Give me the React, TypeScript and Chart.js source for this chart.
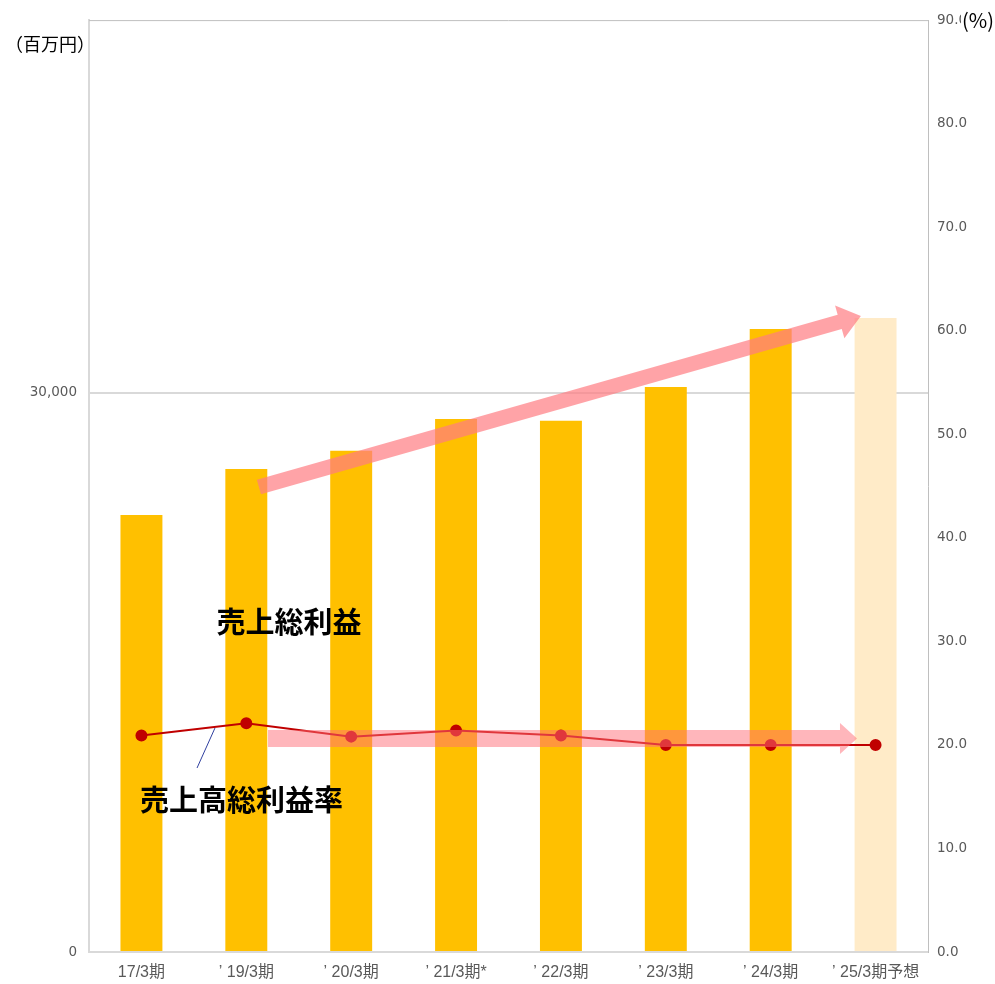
import React, { useEffect, useRef } from "react";
import { Chart, registerables } from "chart.js";

Chart.register(...registerables);

const categories = ["17/3期", "’ 19/3期", "’ 20/3期", "’ 21/3期*", "’ 22/3期", "’ 23/3期", "’ 24/3期", "’ 25/3期予想"];
const grossProfit = [23450, 25920, 26890, 28600, 28500, 30320, 33430, 34020];
const grossMargin = [20.9, 22.1, 20.8, 21.4, 20.9, 20.0, 20.0, 20.0];
const barColors = ["#FFC000", "#FFC000", "#FFC000", "#FFC000", "#FFC000", "#FFC000", "#FFC000", "#FFEBC8"];
const leftTicks = [0, 30000];
const leftMax = 50000;
const rightMax = 90;

const FONT = "'Noto Sans CJK JP', 'Noto Sans', sans-serif";
const XFONT = "'Liberation Sans', 'Noto Sans CJK JP', sans-serif";
const YFONT = "'DejaVu Sans', sans-serif";

const annotationPlugin = {
  id: "annots",
  afterDraw(chart: any) {
    const ctx = chart.ctx as CanvasRenderingContext2D;
    const { x, y, y1 } = chart.scales;
    const area = chart.chartArea;

    // top border
    ctx.save();
    ctx.strokeStyle = "#bfbfbf";
    ctx.lineWidth = 1;
    ctx.beginPath();
    ctx.moveTo(area.left, area.top + 0.5);
    ctx.lineTo(area.right, area.top + 0.5);
    ctx.stroke();
    ctx.restore();

    const arrow = (x0: number, y0: number, x1: number, y1p: number, w: number, hl: number, hw: number, color: string) => {
      const dx = x1 - x0, dy = y1p - y0;
      const len = Math.sqrt(dx * dx + dy * dy);
      const ang = Math.atan2(dy, dx);
      ctx.save();
      ctx.translate(x0, y0);
      ctx.rotate(ang);
      ctx.fillStyle = color;
      ctx.beginPath();
      ctx.moveTo(0, -w / 2);
      ctx.lineTo(len - hl, -w / 2);
      ctx.lineTo(len - hl, -hw);
      ctx.lineTo(len, 0);
      ctx.lineTo(len - hl, hw);
      ctx.lineTo(len - hl, w / 2);
      ctx.lineTo(0, w / 2);
      ctx.closePath();
      ctx.fill();
      ctx.restore();
    };

    // trend arrow for gross profit
    arrow(
      x.getPixelForValue(1.12), y.getPixelForValue(24950),
      x.getPixelForValue(6.86), y.getPixelForValue(34130),
      15, 22, 17, "rgba(255,124,130,0.7)"
    );
    // flat arrow for margin
    arrow(
      x.getPixelForValue(1.207), y1.getPixelForValue(20.62),
      x.getPixelForValue(6.823), y1.getPixelForValue(20.62),
      17, 17, 15.5, "rgba(255,110,120,0.5)"
    );

    // leader line
    ctx.save();
    ctx.strokeStyle = "#2F3F9F";
    ctx.lineWidth = 1;
    ctx.beginPath();
    ctx.moveTo(x.getPixelForValue(0.701), y1.getPixelForValue(21.63));
    ctx.lineTo(x.getPixelForValue(0.53), y1.getPixelForValue(17.77));
    ctx.stroke();
    ctx.restore();

    // labels
    ctx.save();
    ctx.fillStyle = "#000";
    ctx.font = `bold 29px ${FONT}`;
    ctx.textAlign = "center";
    ctx.textBaseline = "middle";
    ctx.fillText("売上総利益", x.getPixelForValue(1.407), y.getPixelForValue(17710));
    ctx.fillText("売上高総利益率", x.getPixelForValue(0.954), y.getPixelForValue(8157));
    ctx.restore();

    // axis unit titles
    ctx.save();
    ctx.fillStyle = "#000";
    ctx.font = `18px ${FONT}`;
    ctx.textAlign = "left";
    ctx.textBaseline = "middle";
    ctx.fillText("（百万円）", 5, 44);
    ctx.font = `20px ${FONT}`;
    const w = ctx.measureText("(%)").width;
    ctx.fillStyle = "#fff";
    ctx.fillRect(961, 6, w + 4, 28);
    ctx.fillStyle = "#000";
    ctx.fillText("(%)", 962, 20);
    ctx.restore();
  },
};

export default function App() {
  const ref = useRef<HTMLCanvasElement>(null);
  useEffect(() => {
    document.body.style.margin = "0";
    const chart = new Chart(ref.current!, {
      type: "bar",
      data: {
        labels: categories,
        datasets: [
          {
            type: "line",
            label: "売上高総利益率",
            data: grossMargin,
            yAxisID: "y1",
            borderColor: "#C00000",
            backgroundColor: "#C00000",
            borderWidth: 2,
            pointRadius: 5,
            pointBackgroundColor: "#C00000",
            pointBorderColor: "#C00000",
            order: 0,
          } as any,
          {
            type: "bar",
            label: "売上総利益",
            data: grossProfit,
            yAxisID: "y",
            backgroundColor: barColors,
            barPercentage: 0.8,
            categoryPercentage: 0.5,
            order: 1,
          },
        ],
      },
      options: {
        animation: false,
        responsive: true,
        maintainAspectRatio: false,
        layout: { padding: { top: 20, left: 0, right: 0, bottom: 0 } },
        plugins: { legend: { display: false }, tooltip: { enabled: false } },
        scales: {
          x: {
            grid: { display: false, drawTicks: false },
            border: { color: "#d9d9d9", width: 2 },
            ticks: { color: "#595959", font: { size: 16, family: XFONT }, padding: 11, maxRotation: 0, autoSkip: false },
            afterFit: (s: any) => { s.height = 32; },
          },
          y: {
            position: "left",
            min: 0,
            max: leftMax,
            afterBuildTicks: (s: any) => { s.ticks = leftTicks.map((v) => ({ value: v })); },
            grid: { color: "#d9d9d9", lineWidth: 2, drawTicks: false },
            border: { color: "#d9d9d9", width: 2 },
            ticks: {
              color: "#595959",
              font: { size: 13.5, family: YFONT },
              padding: 12,
              callback: (v: any) => Number(v).toLocaleString("en-US"),
            },
            afterFit: (s: any) => { s.width = 89; },
          },
          y1: {
            position: "right",
            min: 0,
            max: rightMax,
            grid: { display: false, drawTicks: false },
            border: { color: "#bfbfbf", width: 1 },
            ticks: {
              stepSize: 10,
              color: "#595959",
              font: { size: 13.5, family: YFONT },
              padding: 9,
              callback: (v: any) => Number(v).toFixed(1),
            },
            afterFit: (s: any) => { s.width = 67; },
          },
        },
      },
      plugins: [annotationPlugin],
    });
    return () => chart.destroy();
  }, []);
  return (
    <div style={{ width: 995, height: 984, position: "relative" }}>
      <canvas ref={ref} />
    </div>
  );
}
